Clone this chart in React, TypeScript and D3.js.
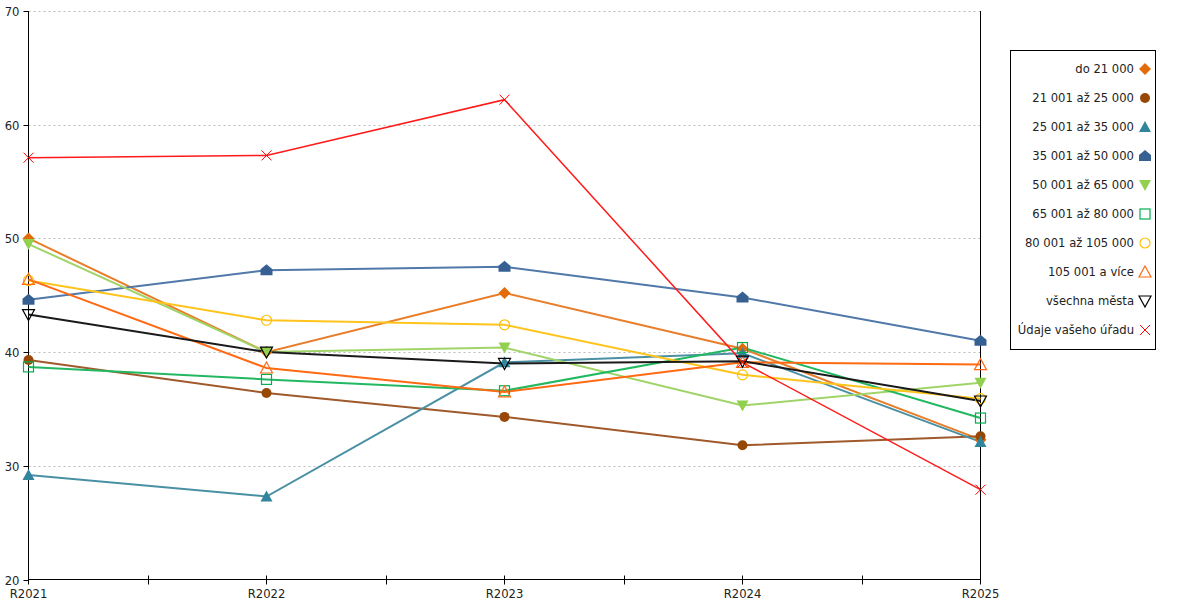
import React from 'react';
import * as d3 from 'd3';

const years = ['R2021', 'R2022', 'R2023', 'R2024', 'R2025'];
const yTicks = [20, 30, 40, 50, 60, 70];

const names = [
  'do 21 000',
  '21 001 až 25 000',
  '25 001 až 35 000',
  '35 001 až 50 000',
  '50 001 až 65 000',
  '65 001 až 80 000',
  '80 001 až 105 000',
  '105 001 a více',
  'všechna města',
  'Údaje vašeho úřadu',
];

const do21 = [50.0, 40.0, 45.2, 40.3, 32.3];
const do25 = [39.3, 36.4, 34.3, 31.8, 32.6];
const do35 = [29.2, 27.3, 39.1, 39.9, 32.1];
const do50 = [44.6, 47.2, 47.5, 44.8, 41.0];
const do65 = [49.5, 40.0, 40.4, 35.3, 37.3];
const do80 = [38.7, 37.6, 36.6, 40.4, 34.2];
const do105 = [46.3, 42.8, 42.4, 38.0, 35.9];
const nad105 = [46.4, 38.6, 36.5, 39.1, 38.9];
const vsechna = [43.3, 40.0, 39.0, 39.2, 35.7];
const urad = [57.1, 57.3, 62.2, 39.1, 27.9];

const values = [do21, do25, do35, do50, do65, do80, do105, nad105, vsechna, urad];

const colors = ['#e36c09', '#974806', '#31859c', '#376092', '#92d050', '#00b050', '#ffc000', '#ff6a13', '#000000', '#ff0000'];
const lineColors = ['#e87d2a', '#a0592a', '#4a90a4', '#5078a8', '#a0d468', '#22b862', '#ffc41c', '#ff6a13', '#1a1a1a', '#ff1a1a'];
const markers = ['diamond', 'circle', 'triangle', 'house', 'tridown', 'square', 'ocircle', 'otriangle', 'otridown', 'cross'];

const left = 28.5;
const right = 980.5;
const top = 11;
const bottom = 579.5;

function Marker({ kind, x, y, color }: { kind: string; x: number; y: number; color: string }) {
  const s = 5;
  switch (kind) {
    case 'diamond':
      return <path d={`M${x},${y - s - 1}L${x + s + 1},${y}L${x},${y + s + 1}L${x - s - 1},${y}Z`} fill={color} />;
    case 'circle':
      return <circle cx={x} cy={y} r={s} fill={color} />;
    case 'triangle':
      return <path d={`M${x},${y - s - 1}L${x + s + 1},${y + s}L${x - s - 1},${y + s}Z`} fill={color} />;
    case 'house':
      return <path d={`M${x},${y - s - 1}L${x + s + 1},${y - 1}L${x + s + 1},${y + s}L${x - s - 1},${y + s}L${x - s - 1},${y - 1}Z`} fill={color} />;
    case 'tridown':
      return <path d={`M${x - s - 1},${y - s}L${x + s + 1},${y - s}L${x},${y + s + 1}Z`} fill={color} />;
    case 'square':
      return <rect x={x - s} y={y - s} width={2 * s} height={2 * s} fill="none" stroke={color} strokeWidth={1.2} />;
    case 'ocircle':
      return <circle cx={x} cy={y} r={s} fill="none" stroke={color} strokeWidth={1.2} />;
    case 'otriangle':
      return <path d={`M${x},${y - s - 1}L${x + s + 1},${y + s}L${x - s - 1},${y + s}Z`} fill="none" stroke={color} strokeWidth={1.2} />;
    case 'otridown':
      return <path d={`M${x - s - 1},${y - s}L${x + s + 1},${y - s}L${x},${y + s + 1}Z`} fill="none" stroke={color} strokeWidth={1.2} />;
    default:
      return <path d={`M${x - s},${y - s}L${x + s},${y + s}M${x + s},${y - s}L${x - s},${y + s}`} stroke={color} strokeWidth={1} />;
  }
}

export default function App() {
  const x = d3.scalePoint<string>().domain(years).range([left, right]);
  const y = d3.scaleLinear().domain([20, 70]).range([bottom, top]);
  const line = d3
    .line<number>()
    .x((_, i) => x(years[i]) as number)
    .y((d) => y(d));

  // minor ticks sit half way between categories
  const mids = years.slice(1).map((yr, i) => Math.round(((x(years[i]) as number) + (x(yr) as number)) / 2) + 0.5);

  return (
    <svg width={1200} height={600} style={{ position: 'absolute', left: 0, top: 0 }} fontFamily="DejaVu Sans" fontSize={11.6}>
      {yTicks.map((t) => {
        const ty = Math.round(y(t)) + 0.5;
        return (
          <g key={t}>
            {t > 20 && <line x1={left} x2={right} y1={ty} y2={ty} stroke="#bbb" strokeDasharray="2,3" />}
            <line x1={left - 5} x2={left} y1={ty} y2={ty} stroke="#000" />
            <text x={left - 9} y={ty} textAnchor="end" dominantBaseline="central" fill="#222">
              {t}
            </text>
          </g>
        );
      })}
      <line x1={left} x2={left} y1={top} y2={bottom} stroke="#000" />
      <line x1={right} x2={right} y1={top} y2={bottom} stroke="#000" />
      <line x1={left} x2={right} y1={bottom} y2={bottom} stroke="#000" />
      {mids.map((m, i) => (
        <line key={i} x1={m} x2={m} y1={bottom - 4} y2={bottom + 5} stroke="#000" />
      ))}
      {years.map((yr) => (
        <g key={yr}>
          <line x1={x(yr)} x2={x(yr)} y1={bottom - 4} y2={bottom + 5} stroke="#000" />
          <text x={x(yr)} y={bottom + 18} textAnchor="middle" fill="#222">
            {yr}
          </text>
        </g>
      ))}
      {values.map((v, i) => (
        <path key={i} d={line(v) as string} fill="none" stroke={lineColors[i]} strokeWidth={i === 9 ? 1.5 : 2} />
      ))}
      {values.map((v, i) => (
        <g key={i}>
          {v.map((d, j) => (
            <Marker key={j} kind={markers[i]} x={x(years[j]) as number} y={y(d)} color={colors[i]} />
          ))}
        </g>
      ))}
      <rect x={1010.5} y={50.5} width={145} height={299} fill="#fff" stroke="#000" />
      {names.map((n, i) => (
        <g key={n}>
          <text x={1134} y={69 + i * 29} textAnchor="end" dominantBaseline="central" fill="#222">
            {n}
          </text>
          <Marker kind={markers[i]} x={1145} y={69 + i * 29} color={colors[i]} />
        </g>
      ))}
    </svg>
  );
}
